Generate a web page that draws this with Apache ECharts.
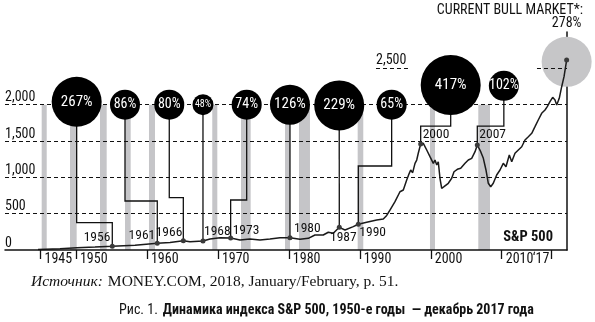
<!DOCTYPE html>
<html><head><meta charset="utf-8">
<script src="https://cdn.jsdelivr.net/npm/echarts@6/dist/echarts.min.js"></script>
<style>html,body{margin:0;padding:0;background:#fff}#c{width:595px;height:322px}</style>
</head><body><div id="c"></div>
<script>
// ---- data ----
const xTickYears = [1945, 1950, 1960, 1970, 1980, 1990, 2000, 2010];
const xTickLabels = ['1945', '1950', '1960', '1970', '1980', '1990', '2000', '2010'];
const lastTickYear = 2017;
const lastTickLabel = '‘17';
const yTickValues = [0, 500, 1000, 1500, 2000];
const yTickLabels = ['0', '500', '1,000', '1,500', '2,000'];
const gridLevels = [500, 1000, 1500, 2000];

const spYears = [1944.65,1947.75,1950.15,1952.68,1955.12,1958.32,1961.46,1963.25,1965.13,1966.07,1967.9,1968.89,1970.30,1971.80,1973.12,1974.53,1975.93,1977.34,1978.75,1980.16,1981.57,1982.74,1983.68,1984.85,1985.56,1986.26,1987.11,1987.91,1989.08,1989.79,1990.97,1992.38,1993.31,1993.79,1994.25,1994.96,1995.66,1996.13,1996.61,1996.97,1997.17,1997.45,1997.78,1998.02,1998.24,1998.58,1998.95,1999.43,1999.89,2000.36,2000.60,2000.84,2001.06,2001.30,2001.54,2001.87,2002.47,2002.95,2003.28,2003.74,2004.22,2004.83,2005.29,2005.77,2006.24,2006.56,2007.04,2007.41,2007.78,2008.11,2008.45,2008.81,2009.29,2009.76,2010.22,2010.60,2011.07,2011.41,2011.87,2012.34,2012.82,2013.28,2013.75,2014.23,2014.69,2015.15,2015.63,2016.10,2016.42,2016.80,2017.18,2017.51,2017.75,2018.11,2018.45,2018.78,2019.15];
const spValues = [8,17,32,41,51,65,92,103,127,114,124,151,169,165,138,151,138,151,169,169,147,161,206,206,244,230,312,275,321,354,381,413,427,475,550,665,802,826,963,1055,1101,1064,1193,1238,1331,1459,1468,1376,1284,1193,1238,1170,1215,987,849,871,918,987,1077,1110,1124,1193,1238,1262,1353,1445,1353,1262,1101,918,871,918,1032,1101,1193,1146,1307,1215,1331,1376,1421,1514,1559,1606,1697,1789,1881,1926,1972,2041,2101,2064,1995,2087,2247,2385,2614];

const recessionStart = [1945.17,1949.16,1953.39,1956.91,1960.29,1969.21,1973.26,1979.46,1981.43,1989.70,1999.89,2006.70];
const recessionEnd   = [1945.88,1950.10,1954.33,1957.71,1961.14,1969.92,1974.62,1980.16,1982.98,1990.49,2000.60,2008.35];
const recessionTop = 2000;

const bubbleYears  = [1950.10,1956.91,1963.15,1967.9,1974.06,1980.16,1987.10,1994.49,2002.81,2010.30];
const bubbleValues = [2040,2000,2000,2000,2000,2000,1990,2000,2270,2260];
const bubbleGains  = ['267%','86%','80%','48%','74%','126%','229%','65%','417%','102%'];
const elbowValues  = [376,674,720,null,688,null,null,1156,1706,1706];
const peakYears    = [1955.12,1961.46,1965.13,1967.9,1971.80,1980.16,1987.11,1989.79,1998.58,2006.56];
const peakValues   = [51,92,127,124,165,169,312,354,1459,1445];
const peakLabels   = ['1956','1961','1966','1968','1973','1980','1987','1990','2000','2007'];

const currentYear = 2019.15;
const currentValue = 2614;
const currentBubbleValue = 2590;
const currentGain = '278%';
const refLevel = 2500;
const refLabel = '2,500';
const refSegments = [[1992.28, 1997.21], [2014.97, 2019.2]];

// ---- styles ----
const NARROW = '"Roboto Condensed", "DejaVu Sans Condensed", sans-serif';
const peakLabelStyle = [
  {align:'right', v:'bottom', off:[-2,-2]},
  {align:'right', v:'bottom', off:[-2,-1]},
  {align:'right', v:'bottom', off:[-1,-1]},
  {align:'left', v:'bottom', off:[1,-2]},
  {align:'left', v:'bottom', off:[2,0]},
  {align:'left', v:'bottom', off:[4,-2]},
  {align:'center', v:'top', off:[4,3]},
  {align:'left', v:'top', off:[1,1]},
  {align:'left', v:'bottom', off:[2,-2]},
  {align:'left', v:'bottom', off:[2,-3]}
];
function bubbleSize(g){ const n=parseFloat(g); return n>=400?60:n>=200?50:n>=110?40:n>=60?30:21; }
function bubbleFont(g){ const s=bubbleSize(g); return s>=40?15:s>=30?14:10; }

const chart = echarts.init(document.getElementById('c'), null, {renderer:'canvas'});

const lineData = spYears.map((y,i)=>[y, spValues[i]]);
const connectors = bubbleYears.map((bx,i)=>{
  const pts = [[bx, bubbleValues[i]]];
  if (elbowValues[i] != null) { pts.push([bx, elbowValues[i]]); pts.push([peakYears[i], elbowValues[i]]); }
  pts.push([peakYears[i], peakValues[i]]);
  return {coords: pts};
});

const axisFont = {fontFamily: NARROW, fontSize: 14, color: '#111'};
const peakFont = {fontFamily: NARROW, fontSize: 13.5, color: '#111'};

chart.setOption({
  animation: false,
  backgroundColor: '#fff',
  grid: {left: 5, right: 28, top: 32, bottom: 72},
  title: [
    {text: 'CURRENT BULL MARKET*:', right: 12, top: 3, padding: 0, textStyle: {fontFamily: NARROW, fontSize: 14, fontWeight: 'normal', color: '#111'}},
    {text: 'S&P 500', right: 42, top: 230, padding: 0, textStyle: {fontFamily: NARROW, fontSize: 14.5, fontWeight: 'bold', color: '#111'}},
    {text: '{i|Источник:} {n|MONEY.COM, 2018, January/February, p. 51.}', left: 31, top: 273, padding: 0,
     textStyle: {fontWeight: 'normal', rich: {i: {fontFamily: '"Liberation Serif", serif', fontStyle: 'italic', fontWeight: 'normal', fontSize: 15.5, color: '#111'}, n: {fontFamily: '"Liberation Serif", serif', fontWeight: 'normal', fontSize: 15.5, color: '#111'}}}},
    {text: '{r|Рис. 1.} {b|Динамика индекса S&P 500, 1950-е годы  — декабрь 2017 года}', left: 119, top: 301, padding: 0,
     textStyle: {fontWeight: 'normal', rich: {r: {fontFamily: NARROW, fontSize: 14, fontWeight: 'normal', color: '#111'}, b: {fontFamily: NARROW, fontSize: 14, fontWeight: 'bold', color: '#111'}}}}
  ],
  xAxis: [
    {type: 'value', min: 1940, max: 2019.2, position: 'bottom', z: 10,
     axisLine: {show: true, lineStyle: {color: '#111', width: 1.5}},
     axisTick: {show: true, customValues: xTickYears, length: 9, lineStyle: {color: '#111', width: 1.3}},
     axisLabel: {customValues: xTickYears, formatter: v => xTickLabels[xTickYears.indexOf(v)], align: 'left', padding: [0,0,0,4], margin: 2, ...axisFont},
     splitLine: {show: false}},
    {type: 'value', min: 1940, max: 2019.2, position: 'bottom', z: 10,
     axisLine: {show: false},
     axisTick: {show: true, customValues: [lastTickYear], length: 9, lineStyle: {color: '#111', width: 1.3}},
     axisLabel: {customValues: [lastTickYear], formatter: () => lastTickLabel, align: 'right', padding: [0,2,0,0], margin: 2, ...axisFont},
     splitLine: {show: false}}
  ],
  yAxis: [
    {type: 'value', min: 0, max: 3000, position: 'left',
     axisLine: {show: false}, axisTick: {show: false}, splitLine: {show: false},
     axisLabel: {inside: true, customValues: yTickValues, formatter: v => yTickLabels[yTickValues.indexOf(v)], align: 'left', verticalAlign: 'bottom', margin: 0, ...axisFont}},
    {type: 'value', min: 0, max: 3000, position: 'right',
     axisLine: {show: true, lineStyle: {color: '#111', width: 1.5}}, axisTick: {show: false}, axisLabel: {show: false}, splitLine: {show: false}}
  ],
  series: [
    {type: 'line', name: 'recessions', data: [[1940, 0]], symbol: 'none', lineStyle: {opacity: 0}, silent: true, z: 1,
     markArea: {silent: true, z: 1, itemStyle: {color: '#c5c5c8'},
       data: recessionStart.map((s,i)=>[{xAxis: s, yAxis: 0}, {xAxis: recessionEnd[i], yAxis: recessionTop}])}},
    {type: 'scatter', name: 'current', data: [[currentYear, currentBubbleValue]], symbolSize: bubbleSize(currentGain), z: 2, silent: true,
     itemStyle: {color: '#c6c6c8', opacity: 1},
     label: {show: true, position: 'top', distance: 6, formatter: currentGain, fontFamily: NARROW, fontSize: 14, color: '#111'}},
    {type: 'line', name: 'grid', data: [[1940, 0]], symbol: 'none', lineStyle: {opacity: 0}, silent: true, z: 3,
     markLine: {silent: true, z: 3, symbol: ['none','none'], lineStyle: {type: [4,3], color: '#111', width: 1.2},
       label: {show: false},
       data: gridLevels.map(v=>({yAxis: v})).concat(refSegments.map((s,i)=>[
         {coord: [s[0], refLevel], label: i===0 ? {show: true, position: 'insideStartTop', formatter: refLabel, distance: [0, 1], ...axisFont} : {show:false}},
         {coord: [s[1], refLevel]}]))}},
    {type: 'lines', name: 'connectors', coordinateSystem: 'cartesian2d', polyline: true, z: 4, silent: true,
     lineStyle: {color: '#111', width: 1.3, opacity: 1}, data: connectors},
    {type: 'line', name: 'S&P 500', data: lineData, symbol: 'none', z: 4, silent: true,
     lineStyle: {color: '#1a1a1a', width: 1.5}},
    {type: 'scatter', name: 'peaks', z: 5, silent: true, symbolSize: 5, itemStyle: {color: '#3a3a3a', opacity: 1},
     data: peakYears.map((y,i)=>({value: [y, peakValues[i]], label: {show: true, position: 'inside', formatter: peakLabels[i],
       align: peakLabelStyle[i].align, verticalAlign: peakLabelStyle[i].v, offset: peakLabelStyle[i].off, ...peakFont}}))
       .concat([{value: [currentYear, currentValue], label: {show: false}}])},
    {type: 'scatter', name: 'bubbles', z: 6, silent: true, itemStyle: {color: '#000', opacity: 1},
     data: bubbleYears.map((y,i)=>({value: [y, bubbleValues[i]], symbolSize: bubbleSize(bubbleGains[i]),
       label: {show: true, position: 'inside', formatter: bubbleGains[i], color: '#fff', fontFamily: NARROW, fontSize: bubbleFont(bubbleGains[i])}}))}
  ]
});
</script></body></html>
